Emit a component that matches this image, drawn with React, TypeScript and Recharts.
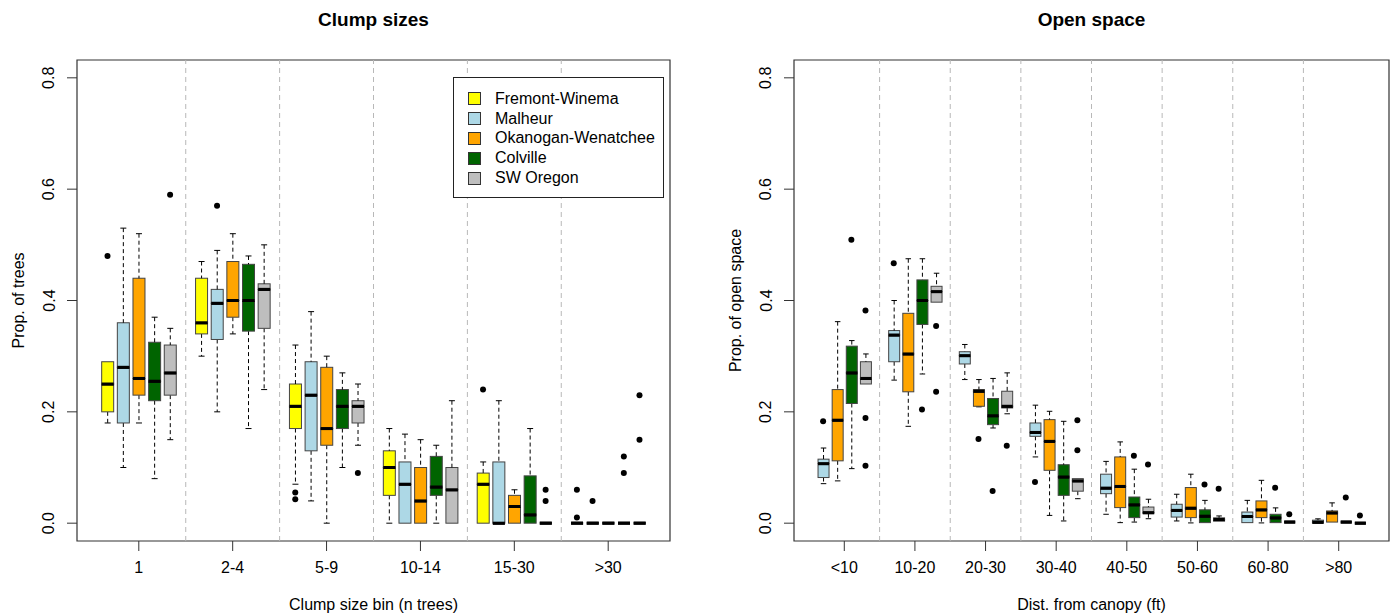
import React from 'react'
import {
  ComposedChart,
  Bar,
  Scatter,
  XAxis,
  YAxis,
  ReferenceLine,
  ReferenceArea,
  Legend,
  Label,
} from 'recharts'

const FONT = '"Liberation Sans", Arial, sans-serif'

const FORESTS = ['Fremont-Winema', 'Malheur', 'Okanogan-Wenatchee', 'Colville', 'SW Oregon']
const FOREST_FILL: Record<string, string> = {
  'Fremont-Winema': '#FFFF00',
  Malheur: '#ADD8E6',
  'Okanogan-Wenatchee': '#FFA500',
  Colville: '#006400',
  'SW Oregon': '#BEBEBE',
}

const Y_TICKS = [0, 0.2, 0.4, 0.6, 0.8]

// ---- clump sizes: [lower whisker, q1, median, q3, upper whisker] per bin ----
const CLUMP_BINS = ['1', '2-4', '5-9', '10-14', '15-30', '>30']

const clumpFremont = [
  [0.18, 0.2, 0.25, 0.29, 0.29],
  [0.3, 0.34, 0.36, 0.44, 0.47],
  [0.07, 0.17, 0.21, 0.25, 0.32],
  [0, 0.05, 0.1, 0.13, 0.17],
  [0, 0, 0.07, 0.09, 0.11],
  [0, 0, 0, 0, 0],
]
const clumpMalheur = [
  [0.1, 0.18, 0.28, 0.36, 0.53],
  [0.2, 0.33, 0.395, 0.42, 0.49],
  [0.04, 0.13, 0.23, 0.29, 0.38],
  [0, 0, 0.07, 0.11, 0.16],
  [0, 0, 0, 0.11, 0.22],
  [0, 0, 0, 0, 0],
]
const clumpOkanogan = [
  [0.18, 0.23, 0.26, 0.44, 0.52],
  [0.34, 0.37, 0.4, 0.47, 0.52],
  [0, 0.14, 0.17, 0.28, 0.3],
  [0, 0, 0.04, 0.1, 0.15],
  [0, 0, 0.03, 0.05, 0.06],
  [0, 0, 0, 0, 0],
]
const clumpColville = [
  [0.08, 0.22, 0.255, 0.325, 0.37],
  [0.17, 0.345, 0.4, 0.465, 0.48],
  [0.1, 0.17, 0.21, 0.24, 0.27],
  [0, 0.05, 0.065, 0.12, 0.14],
  [0, 0, 0.015, 0.085, 0.17],
  [0, 0, 0, 0, 0],
]
const clumpSwOregon = [
  [0.15, 0.23, 0.27, 0.32, 0.35],
  [0.24, 0.35, 0.42, 0.43, 0.5],
  [0.14, 0.18, 0.21, 0.22, 0.25],
  [0, 0, 0.06, 0.1, 0.22],
  [0, 0, 0, 0, 0],
  [0, 0, 0, 0, 0],
]

const clumpFremontOut = [[0.48], [], [0.055, 0.043], [], [0.24], [0.06, 0.01]]
const clumpMalheurOut = [[], [0.57], [], [], [], [0.04]]
const clumpOkanoganOut = [[], [], [], [], [], []]
const clumpColvilleOut = [[], [], [], [], [], [0.12, 0.09]]
const clumpSwOregonOut = [[0.59], [], [0.09], [], [0.06, 0.04], [0.23, 0.15]]

// ---- open space: same layout, four forests ----
const GAP_BINS = ['<10', '10-20', '20-30', '30-40', '40-50', '50-60', '60-80', '>80']

const gapMalheur = [
  [0.071, 0.082, 0.107, 0.115, 0.135],
  [0.257, 0.29, 0.338, 0.346, 0.4],
  [0.258, 0.286, 0.301, 0.308, 0.321],
  [0.119, 0.156, 0.163, 0.18, 0.212],
  [0.016, 0.053, 0.063, 0.088, 0.111],
  [0.004, 0.011, 0.023, 0.034, 0.052],
  [0.001, 0.001, 0.012, 0.02, 0.041],
  [0.0005, 0.0005, 0.0017, 0.0054, 0.0078],
]
const gapOkanogan = [
  [0.076, 0.112, 0.185, 0.24, 0.362],
  [0.174, 0.236, 0.304, 0.377, 0.475],
  [0.209, 0.21, 0.237, 0.24, 0.258],
  [0.014, 0.095, 0.147, 0.186, 0.201],
  [0.001, 0.028, 0.066, 0.119, 0.146],
  [0.0005, 0.01, 0.027, 0.064, 0.088],
  [0.0005, 0.01, 0.024, 0.04, 0.077],
  [0.002, 0.002, 0.0185, 0.022, 0.0365],
]
const gapColville = [
  [0.098, 0.215, 0.27, 0.318, 0.328],
  [0.268, 0.357, 0.4, 0.437, 0.475],
  [0.171, 0.177, 0.193, 0.224, 0.26],
  [0.004, 0.05, 0.083, 0.105, 0.183],
  [0.002, 0.01, 0.033, 0.047, 0.097],
  [0.001, 0.001, 0.0126, 0.024, 0.041],
  [0.001, 0.001, 0.0096, 0.016, 0.0275],
  [0.002, 0.002, 0.002, 0.002, 0.002],
]
const gapSwOregon = [
  [0.25, 0.25, 0.26, 0.29, 0.304],
  [0.397, 0.397, 0.416, 0.4255, 0.449],
  [0.1965, 0.207, 0.21, 0.237, 0.27],
  [0.044, 0.0575, 0.076, 0.08, 0.08],
  [0.008, 0.017, 0.019, 0.029, 0.043],
  [0.0036, 0.0036, 0.0066, 0.0096, 0.013],
  [0.002, 0.002, 0.002, 0.002, 0.002],
  [0, 0, 0, 0, 0],
]

const gapMalheurOut = [[0.183], [0.467], [], [0.074], [], [], [], []]
const gapOkanoganOut = [[], [], [0.151], [], [], [], [], []]
const gapColvilleOut = [[0.509], [0.204], [0.058], [], [0.121], [0.0695], [0.0635], [0.046]]
const gapSwOregonOut = [[0.382, 0.189, 0.103], [0.354, 0.236], [0.139], [0.185, 0.131], [0.1055], [0.062], [0.016], [0.014]]

interface ForestSeries {
  forest: string
  stats: number[][]
  outliers: number[][]
}

// one row per box, stacked as: hidden base | lower whisker | lower box | upper box | upper whisker
function buildBoxes(series: ForestSeries[], slots: number) {
  const rows: any[] = []
  const points: any[] = []
  series.forEach((s, si) => {
    s.stats.forEach(([lo, q1, med, q3, hi], bi) => {
      const pos = bi * slots + si + 1
      rows.push({
        pos,
        forest: s.forest,
        base: lo,
        lowW: q1 - lo,
        lowBox: med - q1,
        highBox: q3 - med,
        highW: hi - q3,
      })
      s.outliers[bi].forEach((v) => points.push({ pos, value: v }))
    })
  })
  rows.sort((a, b) => a.pos - b.pos)
  return { rows, points }
}

const clump = buildBoxes(
  [
    { forest: FORESTS[0], stats: clumpFremont, outliers: clumpFremontOut },
    { forest: FORESTS[1], stats: clumpMalheur, outliers: clumpMalheurOut },
    { forest: FORESTS[2], stats: clumpOkanogan, outliers: clumpOkanoganOut },
    { forest: FORESTS[3], stats: clumpColville, outliers: clumpColvilleOut },
    { forest: FORESTS[4], stats: clumpSwOregon, outliers: clumpSwOregonOut },
  ],
  6
)

const gaps = buildBoxes(
  [
    { forest: FORESTS[1], stats: gapMalheur, outliers: gapMalheurOut },
    { forest: FORESTS[2], stats: gapOkanogan, outliers: gapOkanoganOut },
    { forest: FORESTS[3], stats: gapColville, outliers: gapColvilleOut },
    { forest: FORESTS[4], stats: gapSwOregon, outliers: gapSwOregonOut },
  ],
  5
)

const Hidden = () => <g />

const whisker = (side: 'low' | 'high') => (p: any) => {
  const { x, y, width, height } = p
  if (!height || height <= 0) return <g />
  const cx = x + width / 2
  const end = side === 'low' ? y + height : y
  return (
    <g>
      <line x1={cx} x2={cx} y1={y} y2={y + height} stroke="#000" strokeDasharray="4 3" />
      <line x1={cx - width / 4} x2={cx + width / 4} y1={end} y2={end} stroke="#000" />
    </g>
  )
}

const boxHalf = (side: 'low' | 'high') => (p: any) => {
  const { x, y, width, height, payload } = p
  const medY = side === 'low' ? y : y + height
  return (
    <g>
      {height > 0 && (
        <rect x={x} y={y} width={width} height={height} fill={FOREST_FILL[payload.forest]} stroke="#444" />
      )}
      <line x1={x} x2={x + width} y1={medY} y2={medY} stroke="#000" strokeWidth={3} />
    </g>
  )
}

const Dot = (p: any) => <circle cx={p.cx} cy={p.cy} r={3} fill="#000" />

const YTick = ({ x, y, payload }: any) => (
  <text
    x={x - 16}
    y={y}
    transform={`rotate(-90, ${x - 16}, ${y})`}
    textAnchor="middle"
    dominantBaseline="central"
    fontSize={16}
    fill="#000"
  >
    {payload.value.toFixed(1)}
  </text>
)

const ForestKey = () => (
  <div
    style={{
      border: '1px solid #222',
      background: '#fff',
      padding: '11px 0 9px 14px',
      fontFamily: FONT,
      fontSize: 16,
      boxSizing: 'border-box',
      width: 211,
      height: 121,
    }}
  >
    {FORESTS.map((f) => (
      <div key={f} style={{ display: 'flex', alignItems: 'center', height: 19.8 }}>
        <span
          style={{
            width: 11,
            height: 11,
            background: FOREST_FILL[f],
            border: '1px solid #333',
            marginRight: 14,
            flex: 'none',
          }}
        />
        <span>{f}</span>
      </div>
    ))}
  </div>
)

interface PanelProps {
  title: string
  xTitle: string
  yTitle: string
  bins: string[]
  slots: number
  boxes: { rows: any[]; points: any[] }
  xDomain: [number, number]
  barSize: number
  marginLeft: number
  marginRight: number
  showKey?: boolean
}

function BoxPanel({ title, xTitle, yTitle, bins, slots, boxes, xDomain, barSize, marginLeft, marginRight, showKey }: PanelProps) {
  // each group holds (slots - 1) boxes followed by one empty slot
  const centers = bins.map((_, i) => i * slots + slots / 2)
  const dividers = bins.slice(1).map((_, i) => (i + 1) * slots)
  const labelAt = (v: number) => bins[centers.findIndex((c) => Math.abs(c - v) < 1e-6)]
  const yDomain: [number, number] = [-0.032, 0.832]

  const XTick = ({ x, y, payload }: any) => (
    <text x={x} y={y + 14} textAnchor="middle" dominantBaseline="central" fontSize={16} fill="#000">
      {labelAt(payload.value)}
    </text>
  )

  return (
    <div style={{ position: 'relative', width: 696, height: 613 }}>
      <div
        style={{
          position: 'absolute',
          left: marginLeft + 60,
          width: 696 - marginLeft - 60 - marginRight,
          top: 8,
          lineHeight: '24px',
          textAlign: 'center',
          fontWeight: 'bold',
          fontSize: 19,
          fontFamily: FONT,
        }}
      >
        {title}
      </div>
      <ComposedChart
        width={696}
        height={613}
        data={boxes.rows}
        margin={{ top: 60, right: marginRight, bottom: 0, left: marginLeft }}
        style={{ fontFamily: FONT }}
      >
        <XAxis
          type="number"
          dataKey="pos"
          domain={xDomain}
          allowDataOverflow
          ticks={centers}
          interval={0}
          height={72}
          tickSize={10}
          axisLine={false}
          tickLine={{ stroke: '#333' }}
          tick={<XTick />}
        >
          <Label
            content={({ viewBox }: any) => (
              <text
                x={viewBox.x + viewBox.width / 2}
                y={viewBox.y + 63}
                textAnchor="middle"
                dominantBaseline="central"
                fontSize={16}
                fill="#000"
              >
                {xTitle}
              </text>
            )}
          />
        </XAxis>
        <YAxis
          type="number"
          domain={yDomain}
          allowDataOverflow
          ticks={Y_TICKS}
          interval={0}
          width={60}
          tickSize={10}
          axisLine={false}
          tickLine={{ stroke: '#333' }}
          tick={<YTick />}
        >
          <Label
            content={({ viewBox }: any) => {
              const cx = viewBox.x + 1
              const cy = viewBox.y + viewBox.height / 2
              return (
                <text
                  x={cx}
                  y={cy}
                  transform={`rotate(-90, ${cx}, ${cy})`}
                  textAnchor="middle"
                  dominantBaseline="central"
                  fontSize={16}
                  fill="#000"
                >
                  {yTitle}
                </text>
              )
            }}
          />
        </YAxis>
        {dividers.map((d) => (
          <ReferenceLine key={d} x={d} stroke="#B8B8B8" strokeDasharray="5 4" />
        ))}
        <ReferenceArea
          x1={xDomain[0]}
          x2={xDomain[1]}
          y1={yDomain[0]}
          y2={yDomain[1]}
          fill="none"
          fillOpacity={0}
          stroke="#333"
          strokeWidth={1.2}
        />
        <Bar dataKey="base" stackId="box" barSize={barSize} shape={Hidden} isAnimationActive={false} />
        <Bar dataKey="lowW" stackId="box" barSize={barSize} shape={whisker('low')} isAnimationActive={false} />
        <Bar dataKey="lowBox" stackId="box" barSize={barSize} shape={boxHalf('low')} isAnimationActive={false} />
        <Bar dataKey="highBox" stackId="box" barSize={barSize} shape={boxHalf('high')} isAnimationActive={false} />
        <Bar dataKey="highW" stackId="box" barSize={barSize} shape={whisker('high')} isAnimationActive={false} />
        <Scatter data={boxes.points} dataKey="value" shape={Dot} isAnimationActive={false} />
        {showKey && (
          <Legend
            layout="vertical"
            align="center"
            verticalAlign="middle"
            wrapperStyle={{ left: 453, top: 77, width: 211, height: 121 }}
            content={() => <ForestKey />}
          />
        )}
      </ComposedChart>
    </div>
  )
}

export default function App() {
  return (
    <div
      style={{
        position: 'absolute',
        left: 0,
        top: 0,
        width: 1392,
        height: 613,
        background: '#fff',
        fontFamily: FONT,
      }}
    >
      <div style={{ position: 'absolute', left: 0, top: 0 }}>
        <BoxPanel
          title="Clump sizes"
          xTitle="Clump size bin (n trees)"
          yTitle="Prop. of trees"
          bins={CLUMP_BINS}
          slots={6}
          boxes={clump}
          xDomain={[-0.95, 36.95]}
          barSize={12}
          marginLeft={17}
          marginRight={26}
          showKey
        />
      </div>
      <div style={{ position: 'absolute', left: 696, top: 0 }}>
        <BoxPanel
          title="Open space"
          xTitle="Dist. from canopy (ft)"
          yTitle="Prop. of open space"
          bins={GAP_BINS}
          slots={5}
          boxes={gaps}
          xDomain={[-1.06, 41.06]}
          barSize={11}
          marginLeft={38}
          marginRight={3}
        />
      </div>
    </div>
  )
}
